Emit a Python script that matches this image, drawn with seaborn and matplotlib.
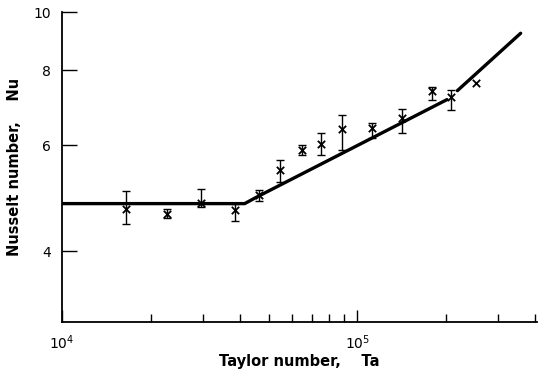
import numpy as np
import pandas as pd
import matplotlib
matplotlib.use("Agg")
import matplotlib.pyplot as plt
import matplotlib.ticker as mticker
import seaborn as sns

# measured points (Taylor number, Nusselt number, error bar limits)
ta = [1.65e4, 2.27e4, 2.96e4, 3.84e4, 4.63e4, 5.45e4, 6.51e4,
      7.54e4, 8.88e4, 1.12e5, 1.42e5, 1.79e5, 2.08e5, 2.52e5]
nu = [4.71, 4.62, 4.82, 4.68, 4.96, 5.47, 5.90,
      6.04, 6.39, 6.42, 6.66, 7.40, 7.22, 7.62]
nu_hi = [5.04, 4.70, 5.08, 4.80, 5.05, 5.68, 6.02,
         6.28, 6.75, 6.53, 6.90, 7.50, 7.42, np.nan]
nu_lo = [4.44, 4.54, 4.73, 4.49, 4.85, 5.22, 5.79,
         5.79, 5.90, 6.18, 6.29, 7.15, 6.86, np.nan]

# correlation lines
fit_ta = [1.0e4, 4.15e4, 4.59e4, 2.01e5]
fit_nu = [4.80, 4.80, 4.93, 7.15]
upper_ta = [2.18e5, 3.57e5]
upper_nu = [7.40, 9.22]

points = pd.DataFrame({"Ta": ta, "Nu": nu, "hi": nu_hi, "lo": nu_lo})

sns.set_style("ticks")
plt.rcParams["font.family"] = ["DejaVu Sans"]
plt.rcParams["text.color"] = "black"
plt.rcParams["axes.labelcolor"] = "black"
plt.rcParams["xtick.color"] = "black"
plt.rcParams["ytick.color"] = "black"
plt.rcParams["axes.edgecolor"] = "black"

fig = plt.figure(figsize=(5.45, 3.77), dpi=100)
ax = fig.add_axes([0.114, 0.146, 0.871, 0.822])

# fitted lines
sns.lineplot(x=fit_ta, y=fit_nu, color="black", linewidth=2.4, ax=ax, sort=False)
sns.lineplot(x=upper_ta, y=upper_nu, color="black", linewidth=2.4, ax=ax, sort=False)

# error bars
eb = points.dropna()
ax.errorbar(eb["Ta"], eb["Nu"],
            yerr=[eb["Nu"] - eb["lo"], eb["hi"] - eb["Nu"]],
            fmt="none", ecolor="black", elinewidth=1.0, capsize=3, capthick=1.0)

# data markers
sns.scatterplot(data=points, x="Ta", y="Nu", marker="x", color="black",
                s=28, linewidth=1.3, ax=ax, zorder=5)

ax.set_xscale("log")
ax.set_yscale("log")
ax.set_xlim(1e4, 4.05e5)
ax.set_ylim(3.05, 10)

ax.yaxis.set_major_locator(mticker.FixedLocator([4, 6, 8, 10]))
ax.yaxis.set_major_formatter(mticker.FixedFormatter(["4", "6", "8", "10"]))
ax.yaxis.set_minor_locator(mticker.NullLocator())
ax.xaxis.set_major_locator(mticker.FixedLocator([1e4, 1e5]))
ax.xaxis.set_major_formatter(mticker.FixedFormatter([r"$10^4$", r"$10^5$"]))
ax.xaxis.set_minor_locator(mticker.FixedLocator(
    [2e4, 3e4, 4e4, 5e4, 6e4, 7e4, 8e4, 9e4, 2e5, 3e5, 4e5]))

ax.tick_params(axis="y", which="major", direction="in", length=11, width=1.0,
               labelsize=10, pad=8)
ax.tick_params(axis="x", which="major", direction="in", length=9, width=1.0,
               labelsize=10, pad=8)
ax.tick_params(axis="x", which="minor", direction="in", length=6, width=1.0)

for side in ["top", "right"]:
    ax.spines[side].set_visible(False)
for side in ["left", "bottom"]:
    ax.spines[side].set_linewidth(1.3)

ax.set_xlabel("Taylor number,    Ta", fontsize=10.5, fontweight="bold", labelpad=2)
ax.set_ylabel("Nusselt number,    Nu", fontsize=10.5, fontweight="bold", labelpad=8)

fig.savefig("out.png", dpi=100)
